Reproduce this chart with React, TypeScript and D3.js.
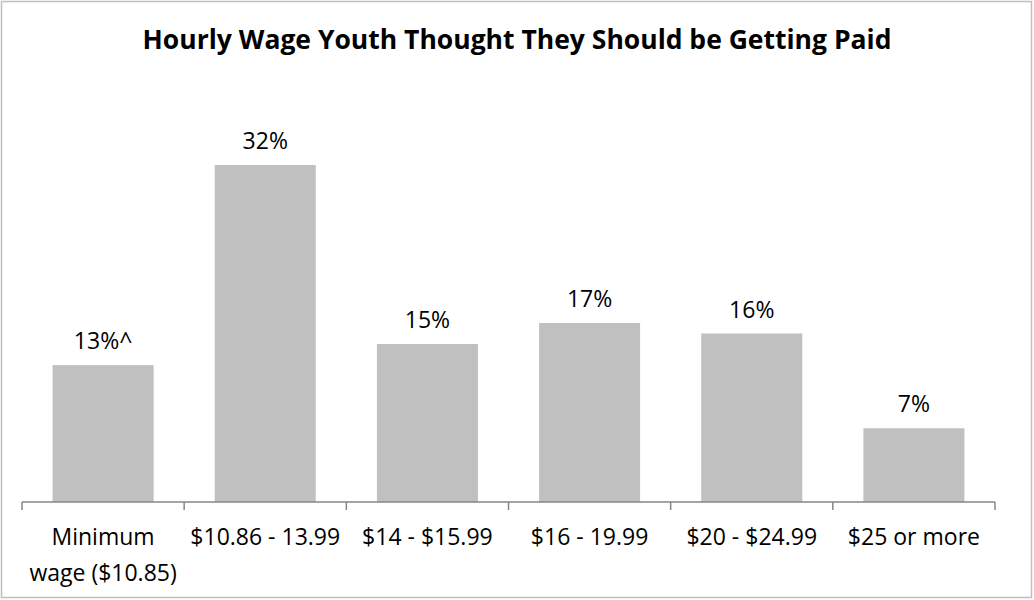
import React from "react";
import * as d3 from "d3";

const categories = ["Minimum\nwage ($10.85)", "$10.86 - 13.99", "$14 - $15.99", "$16 - 19.99", "$20 - $24.99", "$25 or more"];
const values = [13, 32, 15, 17, 16, 7];
const valueLabels = ["13%^", "32%", "15%", "17%", "16%", "7%"];
const title = "Hourly Wage Youth Thought They Should be Getting Paid";

const W = 1034;
const H = 600;
const FONT = "'Open Sans', Lato, sans-serif";

export default function App() {
  const x = d3.scaleBand<string>().domain(categories).range([22, 995]).paddingInner(0.377).paddingOuter(0.1885);
  const baseY = 502;
  const y = d3.scaleLinear().domain([0, 32]).range([baseY, 165]);
  const ticks = d3.range(categories.length + 1).map((i) => 22 + i * x.step());
  return (
    <svg width={W} height={H} style={{ position: "absolute", left: 0, top: 0 }} fontFamily={FONT}>
      <rect x={0} y={0} width={W} height={H} fill="#fff" />
      <rect x={1.5} y={1.5} width={1030} height={596} fill="none" stroke="#bfbfbf" strokeWidth={1.5} />
      <text x={517} y={49} textAnchor="middle" fontSize={26.5} fontWeight="bold" fill="#000">{title}</text>
      {categories.map((c, i) => (
        <g key={c}>
          <rect x={x(c)} y={y(values[i])} width={x.bandwidth()} height={baseY - y(values[i])} fill="#c0c0c0" />
          <text x={(x(c) as number) + x.bandwidth() / 2} y={y(values[i]) - 16} textAnchor="middle" fontSize={23} fill="#000">{valueLabels[i]}</text>
          {c.split("\n").map((line, j) => (
            <text key={j} x={(x(c) as number) + x.bandwidth() / 2} y={545 + j * 36} textAnchor="middle" fontSize={23} fill="#000">{line}</text>
          ))}
        </g>
      ))}
      <line x1={22} x2={995} y1={baseY} y2={baseY} stroke="#868686" strokeWidth={1.5} />
      {ticks.map((t, i) => (
        <line key={i} x1={t} x2={t} y1={baseY} y2={baseY + 8} stroke="#868686" strokeWidth={1.5} />
      ))}
    </svg>
  );
}
